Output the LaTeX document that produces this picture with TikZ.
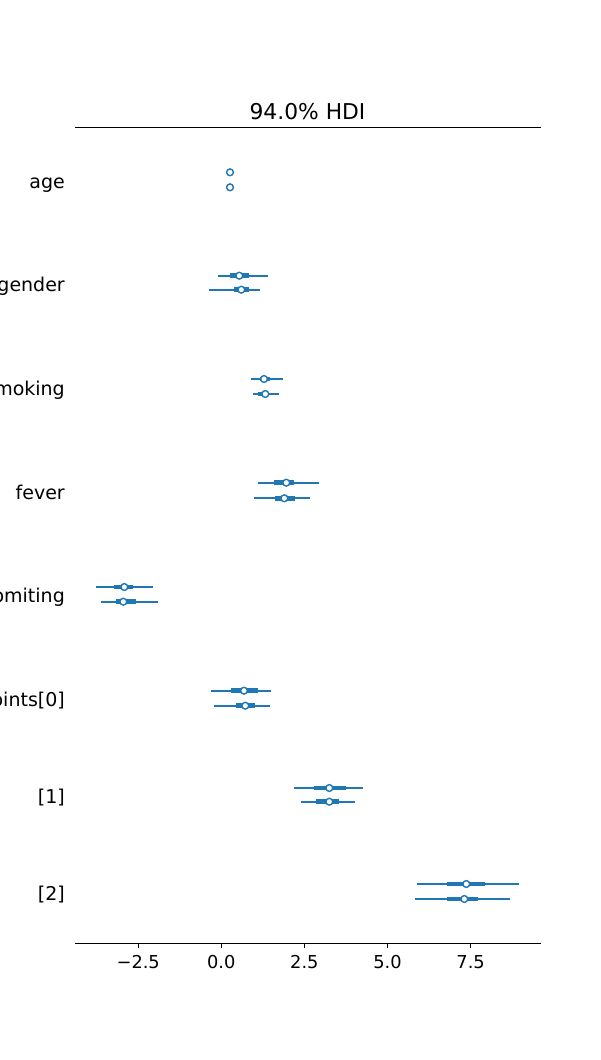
\documentclass[tikz,border=0pt]{standalone}
\usepackage{fontspec}
\setmainfont{DejaVu Sans}
\definecolor{tabblue}{HTML}{1F77B4}
% #1 name, #2 y, #3 hdi low, #4 iqr low, #5 median, #6 iqr high, #7 hdi high
\newcommand{\hdirow}[7]{%
  \coordinate (#1lo) at (#3,#2);
  \coordinate (#1qlo) at (#4,#2);
  \coordinate (#1qhi) at (#6,#2);
  \coordinate (#1hi) at (#7,#2);
  \draw[hdiline] (#1lo) -- (#1hi);
  \draw[iqrline] (#1qlo) -- (#1qhi);
  \node[medmark] (#1m) at (#5,#2) {};
}
\begin{document}
\begin{tikzpicture}[x=1pt,y=-1pt,
  hdiline/.style={tabblue,line width=2.1pt},
  iqrline/.style={tabblue,line width=4.6pt},
  medmark/.style={circle,draw=tabblue,fill=white,line width=1.4pt,minimum size=6.8pt,inner sep=0pt},
  ylab/.style={anchor=base east,font=\fontsize{19}{21}\selectfont,inner sep=0pt},
  xlab/.style={anchor=base,font=\fontsize{17.8}{20}\selectfont,inner sep=0pt},
  titlelab/.style={anchor=base,font=\fontsize{21.8}{24}\selectfont,inner sep=0pt},
  spine/.style={black,line width=0.9pt},
  tickmark/.style={black,line width=0.9pt}]
\useasboundingbox (0,0) rectangle (600,1060);
\clip (0,0) rectangle (600,1060);

% title and spines
\node[titlelab] (title) at (307.5,119) {94.0\% HDI};
\coordinate (topL) at (75,127);
\coordinate (topR) at (540.5,127);
\coordinate (botL) at (75,943);
\coordinate (botR) at (540.5,943);
\draw[spine] (topL) -- (topR);
\draw[spine] (botL) -- (botR);

% x ticks
\foreach \k/\lab in {-1/{−2.5},0/{0.0},1/{2.5},2/{5.0},3/{7.5}}{
  \coordinate (t\k a) at ({221.3+83.1*\k},943);
  \coordinate (t\k b) at ({221.3+83.1*\k},948);
  \draw[tickmark] (t\k a) -- (t\k b);
  \node[xlab] (tl\k) at ({221.3+83.1*\k},968) {\lab};
}

% y labels
\node[ylab] (lage) at (65,188.3) {age};
\node[ylab] (lgender) at (65,291.2) {gender};
\node[ylab] (lsmoking) at (65,395) {smoking};
\node[ylab] (lfever) at (65,499) {fever};
\node[ylab] (lvomiting) at (65,602.8) {vomiting};
\node[ylab] (lcp0) at (65,706.7) {cutpoints[0]};
\node[ylab] (lcp1) at (65,803.3) {[1]};
\node[ylab] (lcp2) at (65,900) {[2]};

% rows
\hdirow{ageA}{172.3}{227.5}{228.5}{230}{231.5}{232.5}
\hdirow{ageB}{187.3}{227.5}{228.5}{230}{231.5}{232.5}
\hdirow{genA}{275.7}{218.3}{230}{239.3}{249}{267.7}
\hdirow{genB}{289.7}{209}{234.3}{241.3}{249}{260}
\hdirow{smoA}{379}{251}{260}{264}{270}{283}
\hdirow{smoB}{394}{253}{258}{265.3}{268.3}{279}
\hdirow{fevA}{482.7}{258}{274}{286.3}{294}{319}
\hdirow{fevB}{498.3}{254}{275}{284.3}{295}{310}
\hdirow{vomA}{587}{96}{114}{124.3}{133}{153}
\hdirow{vomB}{601.7}{101}{116}{123.3}{136}{158}
\hdirow{cpzA}{690.7}{211}{231}{244}{258}{271}
\hdirow{cpzB}{705.7}{214}{236}{245.3}{255}{270}
\hdirow{cpoA}{788}{294}{314}{329.3}{346}{363}
\hdirow{cpoB}{801.7}{301}{316}{329.3}{339}{355}
\hdirow{cptA}{884}{417}{447}{466.3}{485}{519}
\hdirow{cptB}{899}{415}{447}{464.3}{478}{510}
\end{tikzpicture}
\end{document}
